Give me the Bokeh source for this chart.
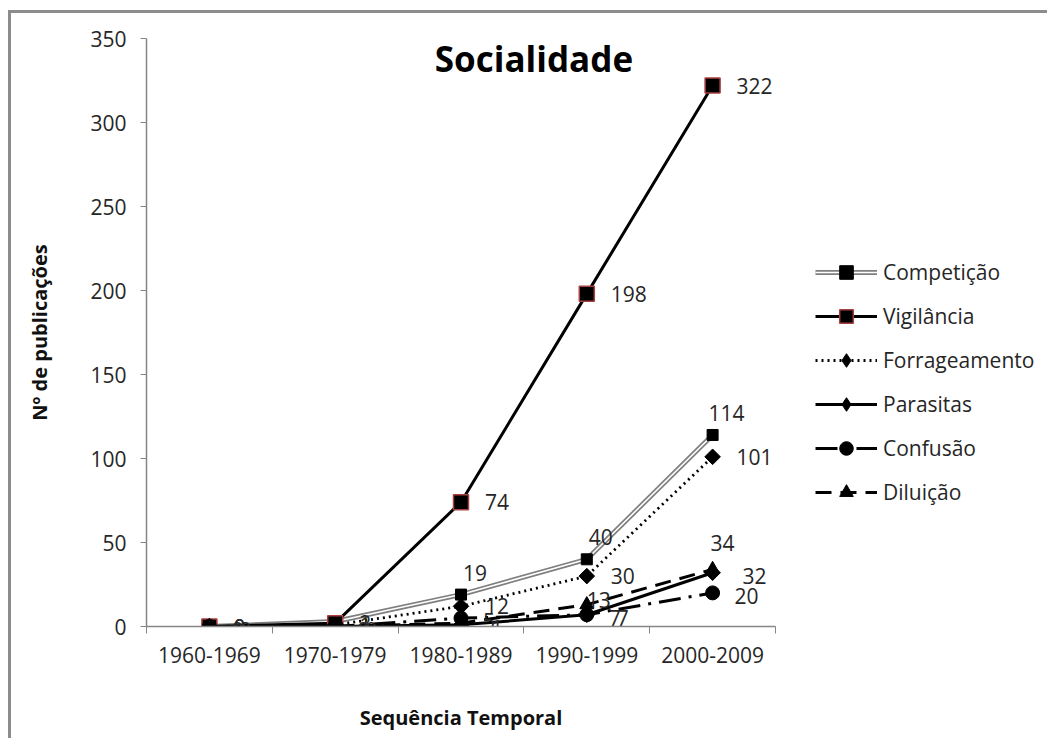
import math
from bokeh.plotting import figure
from bokeh.models import Range1d, FixedTicker, Legend, LegendItem, Label
from bokeh.core.properties import value
from bokeh.embed import file_html
from bokeh.resources import INLINE

# ---------------- data ----------------
periods = ["1960-1969", "1970-1979", "1980-1989", "1990-1999", "2000-2009"]
competicao = [0, 3, 19, 40, 114]
vigilancia = [0, 2, 74, 198, 322]
forrageamento = [0, 1, 12, 30, 101]
parasitas = [0, 0, 1, 7, 32]
confusao = [0, 0, 5, 7, 20]
diluicao = [0, 0, 2, 13, 34]
y_ticks = [0, 50, 100, 150, 200, 250, 300, 350]

FONT = "Open Sans"
TXT = "#262626"
AXC = "#868686"
FS = "21px"

xs = list(range(1, len(periods) + 1))

p = figure(frame_width=629, frame_height=588, output_backend="svg", toolbar_location=None,
           x_range=Range1d(0.5, len(periods) + 0.5), y_range=Range1d(0, 350),
           min_border_left=135, min_border_right=0, min_border_top=25,
           min_border_bottom=112)
p.styles = {"border-left": "3px solid #8c8c8c", "border-top": "3px solid #8c8c8c",
            "margin-top": "10px", "margin-left": "8px"}
p.outline_line_color = None
p.xgrid.visible = False
p.ygrid.visible = False

# x axis
p.xaxis.ticker = FixedTicker(ticks=xs, minor_ticks=[x - 0.5 for x in xs] + [xs[-1] + 0.5])
p.xaxis.major_label_overrides = {x: lab for x, lab in zip(xs, periods)}
p.xaxis.major_tick_out = 0
p.xaxis.major_tick_in = 0
p.xaxis.minor_tick_out = 7
p.xaxis.minor_tick_in = 0
p.xaxis.minor_tick_line_color = AXC
p.xaxis.major_label_standoff = 13
p.xaxis.axis_label = "Sequência Temporal"
p.xaxis.axis_label_standoff = 38

# y axis
p.yaxis.ticker = FixedTicker(ticks=y_ticks)
p.yaxis.minor_tick_line_color = None
p.yaxis.major_tick_out = 6
p.yaxis.major_tick_in = 0
p.yaxis.major_label_standoff = 14
p.yaxis.axis_label = "Nº de publicações"
p.yaxis.axis_label_standoff = 34

for ax in (p.xaxis, p.yaxis):
    ax.axis_line_color = AXC
    ax.axis_line_width = 1.5
    ax.major_tick_line_color = AXC
    ax.major_label_text_font = FONT
    ax.major_label_text_font_size = FS
    ax.major_label_text_color = TXT
    ax.axis_label_text_font = FONT
    ax.axis_label_text_font_size = "20px"
    ax.axis_label_text_font_style = "bold"
    ax.axis_label_text_color = "#111111"

items = []
DIAMOND = math.pi / 4

# Competição: double line
r1 = p.line(xs, competicao, line_color="#7f7f7f", line_width=5)
r2 = p.line(xs, competicao, line_color="white", line_width=1.6)
r3 = p.scatter(xs, competicao, marker="square", size=11, fill_color="black", line_color="black")
items.append(LegendItem(label="Competição", renderers=[r1, r2, r3]))

# Vigilância
r1 = p.line(xs, vigilancia, line_color="black", line_width=3)
r2 = p.scatter(xs, vigilancia, marker="square", size=15, fill_color="black",
               line_color="#a84040", line_width=1.5)
items.append(LegendItem(label="Vigilância", renderers=[r1, r2]))

# Forrageamento (diamond drawn under the rotated square so the legend shows a diamond)
r1 = p.line(xs, forrageamento, line_color="black", line_width=2.8, line_dash="2 4")
r2 = p.scatter(xs, forrageamento, marker="diamond", size=14, fill_color="black", line_color="black")
p.scatter(xs, forrageamento, marker="square", angle=DIAMOND, size=11,
          fill_color="black", line_color="black")
items.append(LegendItem(label="Forrageamento", renderers=[r1, r2]))

# Parasitas
r1 = p.line(xs, parasitas, line_color="black", line_width=3)
r2 = p.scatter(xs, parasitas, marker="diamond", size=14, fill_color="black", line_color="black")
p.scatter(xs, parasitas, marker="square", angle=DIAMOND, size=11,
          fill_color="black", line_color="black")
items.append(LegendItem(label="Parasitas", renderers=[r1, r2]))

# Confusão
r1 = p.line(xs, confusao, line_color="black", line_width=3, line_dash="22 8 3 8")
r2 = p.scatter(xs, confusao, marker="circle", size=14, fill_color="black", line_color="black")
items.append(LegendItem(label="Confusão", renderers=[r1, r2]))

# Diluição
r1 = p.line(xs, diluicao, line_color="black", line_width=3, line_dash="16 9")
r2 = p.scatter(xs, diluicao, marker="triangle", size=14, fill_color="black", line_color="black")
items.append(LegendItem(label="Diluição", renderers=[r1, r2]))

# data labels: (series, first labelled index, x_offset(s), y_offset(s), align)
label_specs = [
    (competicao, 2, 14, -22, "center"),
    (vigilancia, 0, 24, 0, "left"),
    (forrageamento, 0, 24, 0, "left"),
    (parasitas, 0, 30, 3, "left"),
    (confusao, 0, 22, 3, "left"),
    (diluicao, 3, [12, 10], [-5, -26], "center"),
]
for series, start, dx, dy, al in label_specs:
    p.text(xs[start:], series[start:], text=[str(v) for v in series[start:]],
           x_offset=dx, y_offset=dy, text_align=al, text_baseline="middle",
           text_font=value(FONT), text_font_size=FS, text_color=TXT)

legend = Legend(items=items, location=(40, 117))
legend.background_fill_alpha = 0
legend.border_line_alpha = 0
legend.padding = 0
legend.margin = 0
legend.spacing = 10
legend.glyph_width = 62
legend.glyph_height = 34
legend.label_height = 34
legend.label_standoff = 6
legend.label_text_font = FONT
legend.label_text_font_size = FS
legend.label_text_color = TXT
p.add_layout(legend, "right")

title = Label(x=3.58, y=338, text="Socialidade", text_font=FONT, text_font_size="35px",
              text_font_style="bold", text_align="center", text_baseline="middle",
              text_color="black")
p.add_layout(title)

open("out.html", "w").write(file_html(p, INLINE))
